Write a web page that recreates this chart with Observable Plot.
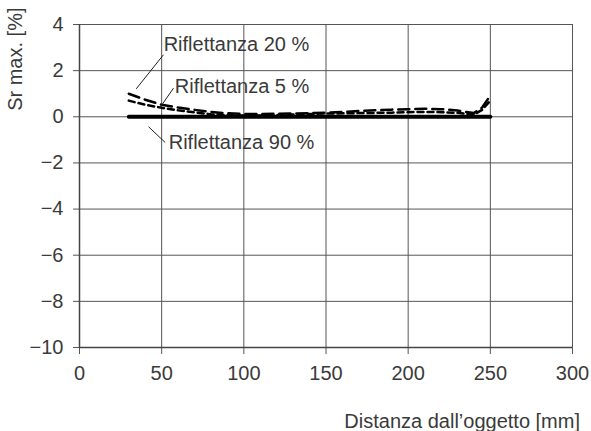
<!DOCTYPE html>
<html>
<head>
<meta charset="utf-8">
<script src="https://cdn.jsdelivr.net/npm/d3@7"></script>
<script src="https://cdn.jsdelivr.net/npm/@observablehq/plot@0.6"></script>
<style>
  html, body { margin: 0; padding: 0; background: #fff; }
</style>
</head>
<body>
<div id="chart"></div>
<script>
// Data
const distance = [30, 40, 50, 60, 70, 80, 90, 100, 110, 120, 130, 140, 150, 160, 170, 180, 190, 200, 210, 220, 230, 240, 245, 250];
const refl20 = [1.0, 0.74, 0.52, 0.40, 0.30, 0.21, 0.15, 0.12, 0.12, 0.13, 0.14, 0.16, 0.18, 0.21, 0.25, 0.28, 0.31, 0.33, 0.35, 0.33, 0.27, 0.16, 0.40, 0.92];
const refl5  = [0.70, 0.52, 0.39, 0.28, 0.19, 0.11, 0.07, 0.05, 0.06, 0.08, 0.10, 0.12, 0.14, 0.15, 0.16, 0.17, 0.18, 0.20, 0.21, 0.20, 0.17, 0.09, 0.30, 0.70];
const refl90 = [0, 0, 0, 0, 0, 0, 0, 0, 0, 0, 0, 0, 0, 0, 0, 0, 0, 0, 0, 0, 0, 0, 0, 0];

const xTicks = [0, 50, 100, 150, 200, 250, 300];
const yTicks = [-10, -8, -6, -4, -2, 0, 2, 4];
const xLabel = "Distanza dall’oggetto [mm]";
const yLabel = "Sr max. [%]";

// Annotation labels (data coordinates) and leader lines
const labelText = ["Riflettanza 20 %", "Riflettanza 5 %", "Riflettanza 90 %"];
const labelX = [51.2, 58.0, 54.3];
const labelY = [3.11, 1.33, -1.13];
const leaderX1 = [51.1, 57.2, 42.0];
const leaderY1 = [2.69, 1.24, -0.43];
const leaderX2 = [34.5, 48.7, 52.1];
const leaderY2 = [1.21, 0.37, -1.11];

const s20 = distance.map((d, i) => ({x: d, y: refl20[i]}));
const s5 = distance.map((d, i) => ({x: d, y: refl5[i]}));
const s90 = distance.map((d, i) => ({x: d, y: refl90[i]}));
const labels = labelText.map((t, i) => ({t, x: labelX[i], y: labelY[i]}));
const leaders = labelText.map((t, i) => ({x1: leaderX1[i], y1: leaderY1[i], x2: leaderX2[i], y2: leaderY2[i]}));

const fmt = d => d < 0 ? "\u2212" + Math.abs(d) : String(d);
const textColor = "#3a3a3a";

const chart = Plot.plot({
  width: 591,
  height: 431,
  marginLeft: 79,
  marginRight: 19,
  marginTop: 24,
  marginBottom: 84,
  style: {fontFamily: "'Liberation Sans', Arial, sans-serif", fontSize: "20px", color: textColor, background: "#fff"},
  x: {domain: [0, 300]},
  y: {domain: [-10, 4]},
  marks: [
    Plot.gridX(xTicks, {stroke: "#555", strokeOpacity: 1, strokeWidth: 1}),
    Plot.gridY(yTicks, {stroke: "#555", strokeOpacity: 1, strokeWidth: 1}),
    Plot.axisX({ticks: xTicks, tickSize: 7, tickPadding: 11, label: null, tickFormat: fmt, fontSize: 20, stroke: "#555", fill: textColor}),
    Plot.axisY({ticks: yTicks, tickSize: 6, tickPadding: 10, label: null, tickFormat: fmt, fontSize: 20, stroke: "#555", fill: textColor}),
    Plot.ruleX([0], {stroke: "#444", strokeWidth: 1.5}),
    Plot.ruleY([-10], {stroke: "#444", strokeWidth: 1.5}),
    Plot.line(s90, {x: "x", y: "y", stroke: "#000", strokeWidth: 4}),
    Plot.line(s5, {x: "x", y: "y", stroke: "#000", strokeWidth: 2.5, strokeDasharray: "6,4"}),
    Plot.line(s20, {x: "x", y: "y", stroke: "#000", strokeWidth: 2.5, strokeDasharray: "11,6"}),
    Plot.link(leaders, {x1: "x1", y1: "y1", x2: "x2", y2: "y2", stroke: "#222", strokeWidth: 1}),
    Plot.text(labels, {x: "x", y: "y", text: "t", textAnchor: "start", lineAnchor: "middle", fontSize: 20, fill: textColor}),
    Plot.text([xLabel], {frameAnchor: "bottom-right", text: d => d, textAnchor: "end", lineAnchor: "middle", dx: 7.5, dy: 74, fontSize: 20, fill: textColor}),
    Plot.text([yLabel], {frameAnchor: "top-left", text: d => d, rotate: -90, textAnchor: "end", lineAnchor: "middle", dx: -64, dy: -17, fontSize: 20, fill: textColor})
  ]
});
document.getElementById("chart").appendChild(chart);
</script>
</body>
</html>
